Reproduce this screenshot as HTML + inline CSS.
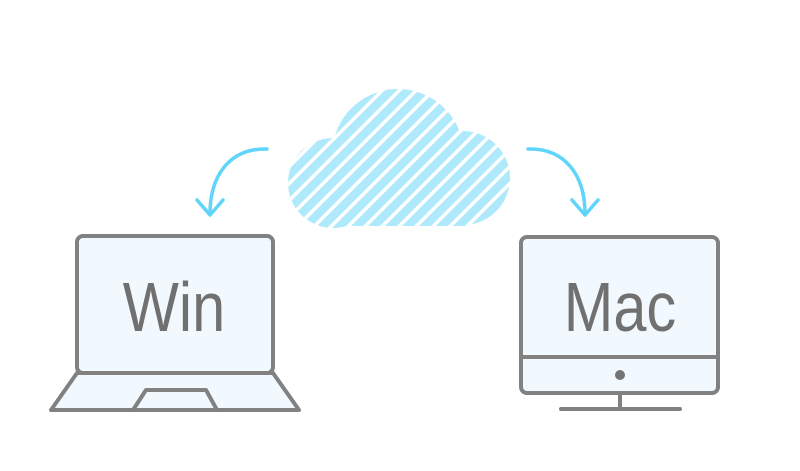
<!DOCTYPE html>
<html><head><style>html,body{margin:0;padding:0;background:#fff;width:800px;height:471px;overflow:hidden}</style></head>
<body>
<svg width="800" height="471" viewBox="0 0 800 471" xmlns="http://www.w3.org/2000/svg">
<defs>
<pattern id="st" patternUnits="userSpaceOnUse" width="12" height="12" patternTransform="rotate(45)">
<rect width="12" height="12" fill="#ffffff"/>
<rect width="8.5" height="12" fill="#aeeafb"/>
</pattern>
<clipPath id="cl">
<circle cx="398" cy="155" r="66"/>
<circle cx="333" cy="183" r="45"/>
<circle cx="463" cy="178" r="47"/>
<rect x="320" y="170" width="150" height="56"/>
</clipPath>
</defs>
<rect x="280" y="80" width="240" height="150" fill="url(#st)" clip-path="url(#cl)"/>
<g fill="none" stroke="#5fd5fb" stroke-width="3.5" stroke-linecap="round" stroke-linejoin="round">
<path d="M267 149 C230 148 210 175 210 214"/>
<path d="M197 200 L210 215 L223 200"/>
<path d="M528 149 C565 148 585 175 585 214"/>
<path d="M572 200 L585 215 L598 200"/>
</g>
<g stroke="#818181" stroke-width="4" fill="#f1f9fe" stroke-linejoin="round">
<rect x="77" y="236" width="196" height="137" rx="6"/>
<polygon points="77,373 273,373 299,410 51,410"/>
<polyline points="133,410 146,390 206,390 217,410" fill="none"/>
<rect x="521" y="237" width="197" height="156" rx="6"/>
<line x1="521" y1="357" x2="718" y2="357"/>
<line x1="620" y1="393" x2="620" y2="409"/>
<line x1="561" y1="409" x2="680" y2="409" stroke-linecap="round"/>
</g>
<circle cx="620" cy="375" r="5" fill="#747474"/>
<g font-family="Liberation Sans, sans-serif" font-size="70" fill="#707070" text-anchor="middle">
<text x="174" y="331" transform="translate(174 0) scale(0.85 1) translate(-174 0)">Win</text>
<text x="620" y="331" transform="translate(620 0) scale(0.85 1) translate(-620 0)">Mac</text>
</g>
</svg>
</body></html>
